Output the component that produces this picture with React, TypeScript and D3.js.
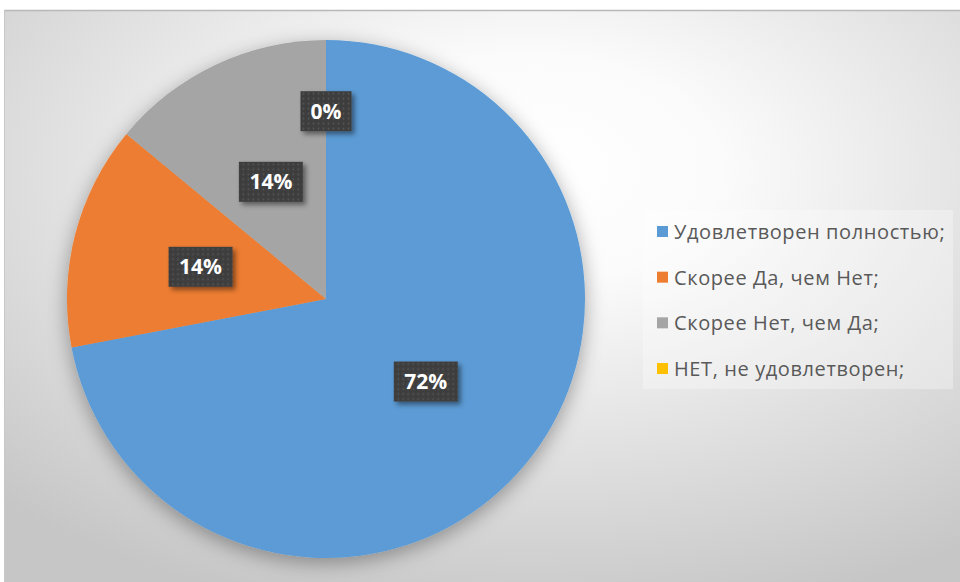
import React from "react";
import * as d3 from "d3";

const categories = [
  "Удовлетворен полностью;",
  "Скорее Да, чем Нет;",
  "Скорее Нет, чем Да;",
  "НЕТ, не удовлетворен;",
];
const values = [72, 14, 14, 0];
const labels = ["72%", "14%", "14%", "0%"];
const colors = ["#5B9BD5", "#ED7D31", "#A5A5A5", "#FFC000"];

const W = 960;
const H = 582;

export default function App() {
  const cx = 326;
  const cy = 299;
  const r = 259;
  const pie = d3.pie<number>().sort(null).value((d) => d)(values);
  const arc = d3.arc<d3.PieArcDatum<number>>().innerRadius(0).outerRadius(r);
  const font = "'Open Sans', 'Noto Sans', sans-serif";

  const legendY = d3.scalePoint<number>().domain(d3.range(categories.length)).range([232, 369]);

  return (
    <svg width={W} height={H} style={{ position: "absolute", left: 0, top: 0 }}>
      <defs>
        <radialGradient id="bg" cx="55%" cy="28%" r="80%" fx="55%" fy="28%">
          <stop offset="0" stopColor="#ffffff" />
          <stop offset="0.25" stopColor="#fbfbfb" />
          <stop offset="0.6" stopColor="#e2e2e2" />
          <stop offset="1" stopColor="#c6c6c6" />
        </radialGradient>
        <filter id="pieShadow" x="-30%" y="-30%" width="160%" height="160%">
          <feDropShadow dx="0" dy="5" stdDeviation="10" floodColor="#000" floodOpacity="0.35" />
        </filter>
        <filter id="boxShadow" x="-30%" y="-30%" width="160%" height="160%">
          <feDropShadow dx="3" dy="3" stdDeviation="2.5" floodColor="#000" floodOpacity="0.45" />
        </filter>
        <pattern id="dots" width="5" height="5" patternUnits="userSpaceOnUse">
          <rect width="5" height="5" fill="#3e3e3e" />
          <circle cx="2.5" cy="2.5" r="0.9" fill="#555555" />
        </pattern>
      </defs>
      <rect x={0} y={0} width={W} height={H} fill="#ffffff" />
      <rect x={4} y={10} width={W - 4} height={H - 10} fill="url(#bg)" />
      <line x1={4} x2={W} y1={10.5} y2={10.5} stroke="#b8b8b8" strokeWidth={1.5} />
      <line x1={4.5} x2={4.5} y1={10} y2={H} stroke="#c8c8c8" strokeWidth={1} />

      <g transform={`translate(${cx},${cy})`} filter="url(#pieShadow)">
        {pie.map((p, i) => (
          <path key={i} d={arc(p) || ""} fill={colors[i]} />
        ))}
      </g>

      {pie.map((p, i) => {
        const mid = (p.startAngle + p.endAngle) / 2;
        const rr = p.value === 0 ? r * 0.725 : r * 0.5;
        const x = cx + Math.sin(mid) * rr;
        const y = cy - Math.cos(mid) * rr;
        const w = labels[i].length * 13 + 25;
        const h = 40;
        return (
          <g key={i} transform={`translate(${x},${y})`}>
            <rect x={-w / 2} y={-h / 2} width={w} height={h} fill="url(#dots)" filter="url(#boxShadow)" />
            <text
              textAnchor="middle"
              dy="0.36em"
              fill="#ffffff"
              fontFamily={font}
              fontWeight={700}
              fontSize={21}
            >
              {labels[i]}
            </text>
          </g>
        );
      })}

      <rect x={643} y={210} width={310} height={179} fill="#ffffff" fillOpacity={0.3} />
      {categories.map((c, i) => (
        <g key={i} transform={`translate(657,${legendY(i)})`}>
          <rect x={0} y={-6} width={11} height={11} fill={colors[i]} />
          <text x={17} dy="0.35em" fill="#595959" fontFamily={font} fontSize={20} letterSpacing={0.6}>
            {c}
          </text>
        </g>
      ))}
    </svg>
  );
}
